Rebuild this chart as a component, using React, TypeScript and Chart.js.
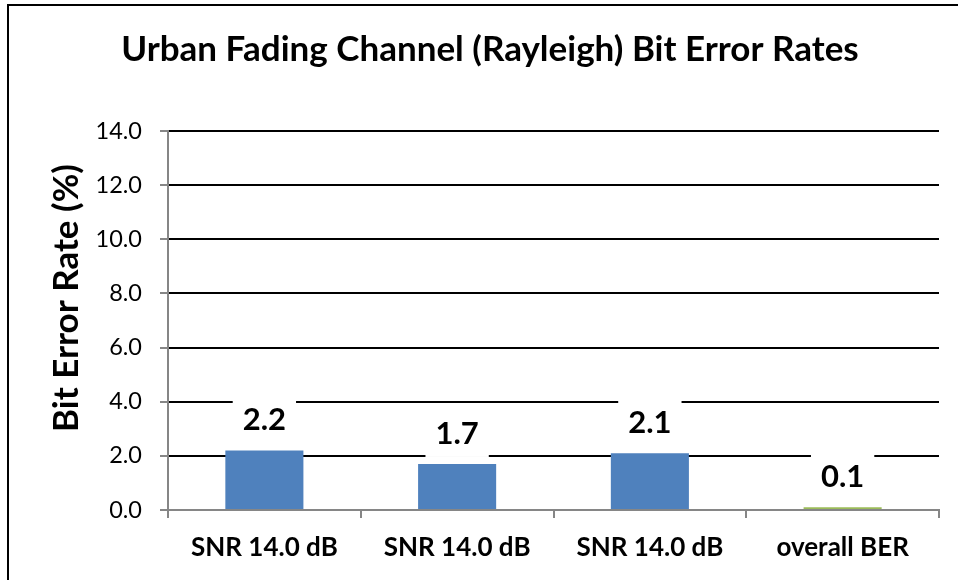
import React, { useEffect, useRef } from 'react';
import { Chart, registerables } from 'chart.js';

Chart.register(...registerables);

const categories = ['SNR 14.0 dB', 'SNR 14.0 dB', 'SNR 14.0 dB', 'overall BER'];
const berValues = [2.2, 1.7, 2.1, 0.1];
const barColors = ['#4F81BD', '#4F81BD', '#4F81BD', '#9BBB59'];
const yMin = 0;
const yMax = 14;
const yStep = 2;
const chartTitle = 'Urban Fading Channel (Rayleigh) Bit Error Rates';
const yAxisTitle = 'Bit Error Rate (%)';

const FONT = 'Lato, "Open Sans", sans-serif';
const AXIS_GRAY = '#868686';

const decorPlugin = {
  id: 'decor',
  beforeDraw(chart: any) {
    const { ctx, width, height } = chart;
    ctx.save();
    ctx.fillStyle = '#fff';
    ctx.fillRect(0, 0, width, height);
    ctx.restore();
  },
  afterDatasetsDraw(chart: any) {
    const { ctx } = chart;
    const meta = chart.getDatasetMeta(0);
    ctx.save();
    ctx.font = `bold 31px ${FONT}`;
    ctx.textAlign = 'center';
    ctx.textBaseline = 'middle';
    meta.data.forEach((bar: any, i: number) => {
      const label = berValues[i].toFixed(1);
      const x = bar.x;
      const y = bar.y - 30;
      const w = ctx.measureText(label).width + 20;
      const h = 46;
      ctx.fillStyle = '#fff';
      ctx.fillRect(x - w / 2, y - h / 2, w, h);
      ctx.fillStyle = '#000';
      ctx.fillText(label, x, y);
    });
    ctx.restore();
  },
  afterDraw(chart: any) {
    const { ctx, width, height } = chart;
    ctx.save();
    // frame
    ctx.strokeStyle = '#000';
    ctx.lineWidth = 2;
    ctx.beginPath();
    ctx.moveTo(8, height);
    ctx.lineTo(8, 5);
    ctx.lineTo(width, 5);
    ctx.stroke();
    // title
    ctx.fillStyle = '#000';
    ctx.font = `bold 35px ${FONT}`;
    ctx.textAlign = 'center';
    ctx.textBaseline = 'middle';
    ctx.fillText(chartTitle, 490, 50);
    // y title
    ctx.translate(67, 298);
    ctx.rotate(-Math.PI / 2);
    ctx.font = `bold 35px ${FONT}`;
    ctx.fillText(yAxisTitle, 0, 0);
    ctx.restore();
  },
};

export default function App() {
  const ref = useRef<HTMLCanvasElement | null>(null);
  useEffect(() => {
    document.body.style.margin = '0';
    if (!ref.current) return;
    const chart = new Chart(ref.current, {
      type: 'bar',
      data: {
        labels: categories,
        datasets: [
          {
            data: berValues,
            backgroundColor: barColors,
            barPercentage: 0.405,
            categoryPercentage: 1,
          },
        ],
      },
      options: {
        responsive: false,
        animation: false,
        layout: { padding: { left: 0, right: 19, top: 131, bottom: 0 } },
        plugins: {
          legend: { display: false },
          title: { display: false },
          tooltip: { enabled: false },
        },
        scales: {
          x: {
            afterFit: (s: any) => {
              s.height = 70;
            },
            grid: {
              offset: true,
              drawOnChartArea: false,
              drawTicks: true,
              tickLength: 8,
              tickColor: AXIS_GRAY,
              lineWidth: 2,
            },
            border: { color: AXIS_GRAY, width: 2 },
            ticks: {
              color: '#000',
              font: { family: FONT, size: 26, weight: 'bold' },
              padding: 14,
              maxRotation: 0,
            },
          },
          y: {
            min: yMin,
            max: yMax,
            afterFit: (s: any) => {
              s.width = 168;
            },
            grid: {
              color: (c: any) => (c.tick && c.tick.value === 0 ? 'rgba(0,0,0,0)' : '#000'),
              lineWidth: 2,
              tickLength: 8,
              tickColor: AXIS_GRAY,
            },
            border: { color: AXIS_GRAY, width: 2 },
            ticks: {
              stepSize: yStep,
              color: '#000',
              font: { family: FONT, size: 23.5 },
              padding: 18,
              callback: (v: any) => Number(v).toFixed(1),
            },
          },
        },
      },
      plugins: [decorPlugin],
    });
    return () => chart.destroy();
  }, []);
  return <canvas ref={ref} width={958} height={580} style={{ display: 'block' }} />;
}
